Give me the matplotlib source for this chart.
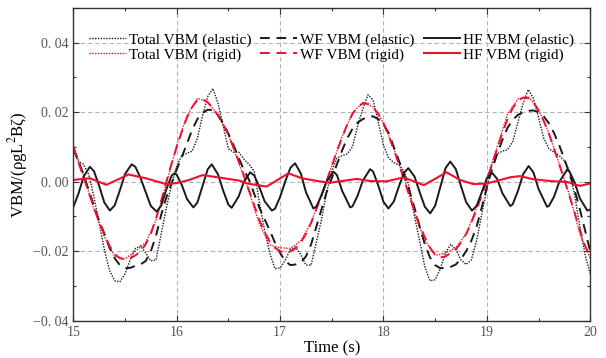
import matplotlib
matplotlib.use("Agg")
import matplotlib.pyplot as plt
from matplotlib.ticker import MultipleLocator

plt.rcParams['font.family'] = ['Liberation Serif', 'DejaVu Serif']
plt.rcParams['mathtext.fontset'] = 'stix'

# ---------------- data ----------------
t_grid = [15.00, 15.05, 15.10, 15.15, 15.20, 15.25, 15.30, 15.35, 15.40, 15.45,
          15.50, 15.55, 15.60, 15.65, 15.70, 15.75, 15.80, 15.85, 15.90, 15.95,
          16.00, 16.05, 16.10, 16.15, 16.20, 16.25, 16.30, 16.35, 16.40, 16.45,
          16.50, 16.55, 16.60, 16.65, 16.70, 16.75, 16.80, 16.85, 16.90, 16.95,
          17.00, 17.05, 17.10, 17.15, 17.20, 17.25, 17.30, 17.35, 17.40, 17.45,
          17.50, 17.55, 17.60, 17.65, 17.70, 17.75, 17.80, 17.85, 17.90, 17.95,
          18.00, 18.05, 18.10, 18.15, 18.20, 18.25, 18.30, 18.35, 18.40, 18.45,
          18.50, 18.55, 18.60, 18.65, 18.70, 18.75, 18.80, 18.85, 18.90, 18.95,
          19.00, 19.05, 19.10, 19.15, 19.20, 19.25, 19.30, 19.35, 19.40, 19.45,
          19.50, 19.55, 19.60, 19.65, 19.70, 19.75, 19.80, 19.85, 19.90, 19.95,
          20.00]

total_elastic = [0.0090, 0.0058, 0.0050, 0.0020, -0.0045, -0.0120, -0.0195, -0.0255, -0.0285, -0.0288,
                 -0.0265, -0.0225, -0.0192, -0.0185, -0.0205, -0.0228, -0.0225, -0.0150, -0.0075, -0.0010,
                 0.0045, 0.0075, 0.0082, 0.0088, 0.0125, 0.0190, 0.0245, 0.0268, 0.0225, 0.0160,
                 0.0095, 0.0085, 0.0085, 0.0065, 0.0050, 0.0030, -0.0060, -0.0140, -0.0205, -0.0250,
                 -0.0248, -0.0225, -0.0195, -0.0188, -0.0210, -0.0240, -0.0240, -0.0175, -0.0110, -0.0030,
                 0.0030, 0.0068, 0.0075, 0.0080, 0.0100, 0.0160, 0.0210, 0.0250, 0.0235, 0.0170,
                 0.0105, 0.0068, 0.0055, 0.0048, 0.0030, -0.0015, -0.0100, -0.0170, -0.0245, -0.0285,
                 -0.0282, -0.0250, -0.0205, -0.0180, -0.0195, -0.0225, -0.0238, -0.0225, -0.0170, -0.0095,
                 -0.0020, 0.0050, 0.0080, 0.0088, 0.0092, 0.0115, 0.0170, 0.0225, 0.0265, 0.0240,
                 0.0185, 0.0125, 0.0095, 0.0085, 0.0075, 0.0060, 0.0030, -0.0040, -0.0130, -0.0210,
                 -0.0265]

wf_elastic = [0.0095, 0.0058, 0.0020, -0.0025, -0.0070, -0.0112, -0.0150, -0.0190, -0.0220, -0.0240,
              -0.0249, -0.0248, -0.0242, -0.0238, -0.0228, -0.0200, -0.0155, -0.0095, -0.0045, -0.0005,
              0.0035, 0.0072, 0.0110, 0.0150, 0.0180, 0.0198, 0.0207, 0.0206, 0.0192, 0.0168,
              0.0138, 0.0105, 0.0068, 0.0035, 0.0005, -0.0035, -0.0075, -0.0108, -0.0140, -0.0175,
              -0.0205, -0.0228, -0.0240, -0.0238, -0.0232, -0.0215, -0.0180, -0.0130, -0.0080, -0.0030,
              0.0010, 0.0050, 0.0090, 0.0125, 0.0152, 0.0170, 0.0180, 0.0187, 0.0188, 0.0180,
              0.0165, 0.0140, 0.0100, 0.0060, 0.0020, -0.0025, -0.0075, -0.0130, -0.0180, -0.0218,
              -0.0240, -0.0249, -0.0248, -0.0245, -0.0238, -0.0222, -0.0200, -0.0170, -0.0130, -0.0075,
              -0.0015, 0.0035, 0.0080, 0.0120, 0.0155, 0.0178, 0.0192, 0.0200, 0.0204, 0.0205,
              0.0200, 0.0188, 0.0168, 0.0140, 0.0105, 0.0065, 0.0022, -0.0025, -0.0080, -0.0140,
              -0.0200]

wf_rigid = [0.0100, 0.0055, 0.0012, -0.0032, -0.0075, -0.0115, -0.0150, -0.0185, -0.0208, -0.0220,
            -0.0224, -0.0220, -0.0212, -0.0200, -0.0180, -0.0150, -0.0105, -0.0055, 0.0000, 0.0052,
            0.0100, 0.0145, 0.0185, 0.0215, 0.0235, 0.0238, 0.0228, 0.0212, 0.0190, 0.0165,
            0.0135, 0.0098, 0.0058, 0.0018, -0.0025, -0.0068, -0.0110, -0.0145, -0.0172, -0.0190,
            -0.0200, -0.0203, -0.0200, -0.0192, -0.0175, -0.0150, -0.0118, -0.0080, -0.0040, 0.0002,
            0.0045, 0.0088, 0.0128, 0.0165, 0.0195, 0.0215, 0.0225, 0.0224, 0.0214, 0.0195,
            0.0168, 0.0132, 0.0092, 0.0050, 0.0005, -0.0040, -0.0085, -0.0125, -0.0160, -0.0190,
            -0.0210, -0.0218, -0.0215, -0.0205, -0.0195, -0.0175, -0.0150, -0.0118, -0.0080, -0.0040,
            0.0005, 0.0050, 0.0095, 0.0140, 0.0180, 0.0212, 0.0232, 0.0242, 0.0240, 0.0228,
            0.0205, 0.0175, 0.0138, 0.0095, 0.0050, 0.0005, -0.0042, -0.0090, -0.0140, -0.0185,
            -0.0215]

t_total_rigid = [15.0, 15.1, 15.2, 15.3, 15.4, 15.5, 15.6, 15.7, 15.8, 15.9,
                 16.0, 16.1, 16.2, 16.3, 16.4, 16.5, 16.6, 16.7, 16.8, 16.9,
                 17.0, 17.1, 17.2, 17.3, 17.4, 17.5, 17.6, 17.7, 17.8, 17.9,
                 18.0, 18.1, 18.2, 18.3, 18.4, 18.5, 18.6, 18.7, 18.8, 18.9,
                 19.0, 19.1, 19.2, 19.3, 19.4, 19.5, 19.6, 19.7, 19.8, 19.9, 20.0]
total_rigid = [0.0105, 0.0018, -0.0080, -0.0158, -0.0215, -0.0222, -0.0200, -0.0175, -0.0110, -0.0005,
               0.0105, 0.0190, 0.0240, 0.0230, 0.0190, 0.0135, 0.0055, -0.0030, -0.0122, -0.0182,
               -0.0190, -0.0192, -0.0170, -0.0118, -0.0035, 0.0045, 0.0130, 0.0198, 0.0228, 0.0215,
               0.0170, 0.0095, 0.0010, -0.0090, -0.0168, -0.0212, -0.0205, -0.0190, -0.0150, -0.0075,
               0.0010, 0.0100, 0.0195, 0.0238, 0.0245, 0.0208, 0.0140, 0.0052, -0.0040, -0.0150, -0.0220]

t_hf_elastic = [15.00, 15.05, 15.10, 15.16, 15.20, 15.25, 15.30, 15.354, 15.40, 15.45,
                15.50, 15.564, 15.60, 15.65, 15.70, 15.75, 15.806, 15.85, 15.90, 15.95,
                15.977, 16.00, 16.05, 16.10, 16.161, 16.20, 16.25, 16.30, 16.339, 16.40,
                16.45, 16.50, 16.532, 16.60, 16.65, 16.71, 16.75, 16.80, 16.85, 16.92,
                16.95, 17.00, 17.05, 17.10, 17.145, 17.20, 17.25, 17.322, 17.35, 17.40,
                17.45, 17.516, 17.55, 17.60, 17.678, 17.70, 17.75, 17.80, 17.871, 17.90,
                17.95, 18.00, 18.048, 18.10, 18.15, 18.20, 18.24, 18.30, 18.35, 18.40,
                18.452, 18.50, 18.55, 18.60, 18.646, 18.70, 18.75, 18.80, 18.856, 18.90,
                18.95, 19.00, 19.049, 19.10, 19.15, 19.226, 19.25, 19.30, 19.35, 19.404,
                19.45, 19.50, 19.582, 19.60, 19.65, 19.70, 19.775, 19.80, 19.85, 19.90,
                19.972, 20.00]
hf_elastic = [-0.0073, -0.0034, 0.0015, 0.0043, 0.0030, -0.0012, -0.0060, -0.0083, -0.0068, -0.0025,
              0.0022, 0.0050, 0.0043, 0.0011, -0.0030, -0.0070, -0.0086, -0.0069, -0.0022, 0.0017,
              0.0024, 0.0020, -0.0010, -0.0050, -0.0074, -0.0060, -0.0012, 0.0036, 0.0050, 0.0021,
              -0.0026, -0.0066, -0.0075, -0.0042, 0.0000, 0.0027, 0.0018, -0.0016, -0.0056, -0.0083,
              -0.0078, -0.0044, 0.0001, 0.0040, 0.0053, 0.0024, -0.0030, -0.0077, -0.0072, -0.0040,
              0.0001, 0.0029, 0.0019, -0.0026, -0.0074, -0.0071, -0.0040, 0.0003, 0.0036, 0.0029,
              -0.0011, -0.0058, -0.0077, -0.0057, -0.0013, 0.0026, 0.0039, 0.0015, -0.0030, -0.0072,
              -0.0091, -0.0069, -0.0015, 0.0039, 0.0058, 0.0036, -0.0013, -0.0059, -0.0083, -0.0070,
              -0.0031, 0.0010, 0.0026, 0.0008, -0.0033, -0.0070, -0.0065, -0.0027, 0.0021, 0.0045,
              0.0027, -0.0021, -0.0072, -0.0070, -0.0043, -0.0001, 0.0034, 0.0029, -0.0003, -0.0048,
              -0.0083, -0.0080]

t_hf_rigid = [15.00, 15.16, 15.32, 15.50, 15.53, 15.70, 15.90, 16.00, 16.12, 16.25,
              16.39, 16.61, 16.68, 16.87, 17.08, 17.21, 17.36, 17.48, 17.60, 17.74,
              17.87, 18.03, 18.19, 18.26, 18.39, 18.48, 18.61, 18.74, 18.87, 19.00,
              19.13, 19.23, 19.32, 19.45, 19.61, 19.78, 19.90, 20.00]
hf_rigid = [0.0005, 0.0010, -0.0009, 0.0016, 0.0021, 0.0010, -0.0007, -0.0004, 0.0005, 0.0019,
            0.0013, 0.0003, -0.0005, -0.0014, 0.0024, 0.0010, 0.0002, -0.0003, 0.0002, 0.0008,
            0.0002, 0.0001, 0.0012, 0.0005, -0.0010, 0.0005, 0.0027, 0.0005, -0.0007, -0.0005,
            0.0005, 0.0013, 0.0016, 0.0007, 0.0002, -0.0001, -0.0012, -0.0005]

x_ticks = [15, 16, 17, 18, 19, 20]
x_ticklabels = ['15', '16', '17', '18', '19', '20']
y_ticks = [-0.04, -0.02, 0.00, 0.02, 0.04]
y_ticklabels = ['\u22120. 04', '\u22120. 02', '0. 00', '0. 02', '0. 04']

labels = ['Total VBM (elastic)', 'Total VBM (rigid)',
          'WF VBM (elastic)', 'WF VBM (rigid)',
          'HF VBM (elastic)', 'HF VBM (rigid)']

# ---------------- figure ----------------
RED = '#f0102e'
fig = plt.figure(figsize=(6.06, 3.58), dpi=100)
ax = fig.add_axes([0.121, 0.104, 0.853, 0.874])

ax.grid(True, which='major', color='#b4b4b4', linestyle=(0, (4, 2.5)), linewidth=0.8)
ax.set_axisbelow(True)

l1, = ax.plot(t_grid, total_elastic, color='#1a1a1a', linestyle=(0, (1, 1)), linewidth=1.0)
l2, = ax.plot(t_total_rigid, total_rigid, color=RED, linestyle=(0, (1, 1)), linewidth=1.0)
l3, = ax.plot(t_grid, wf_elastic, color='#1a1a1a', linestyle=(0, (5, 3.5)), linewidth=1.4)
l4, = ax.plot(t_grid, wf_rigid, color=RED, linestyle=(0, (5, 3.5)), linewidth=1.4)
l5, = ax.plot(t_hf_elastic, hf_elastic, color='#1a1a1a', linestyle='-', linewidth=1.4)
l6, = ax.plot(t_hf_rigid, hf_rigid, color=RED, linestyle='-', linewidth=1.5)

ax.set_xlim(15, 20)
ax.set_ylim(-0.04, 0.05)
ax.set_xticks(x_ticks)
ax.set_xticklabels(x_ticklabels)
ax.set_yticks(y_ticks)
ax.set_yticklabels(y_ticklabels)
ax.xaxis.set_minor_locator(MultipleLocator(0.5))
ax.yaxis.set_minor_locator(MultipleLocator(0.01))
ax.tick_params(which='both', direction='in', top=True, right=True,
               labelsize=10, labelcolor='#555555', color='#333333')
ax.tick_params(which='major', length=4, width=0.8)
ax.tick_params(which='minor', length=2.5, width=0.8)
for s in ax.spines.values():
    s.set_color('#333333')
    s.set_linewidth(1.0)

ax.set_xlabel('Time (s)', fontsize=12, labelpad=1)
ax.set_ylabel('VBM/(\u03c1gL$^2$B\u03b6)', fontsize=12, labelpad=2)

ax.legend([l1, l2, l3, l4, l5, l6], labels, ncol=3, loc='upper center',
          bbox_to_anchor=(0.5, 0.955), frameon=False, fontsize=11,
          handlelength=2.4, handletextpad=0.2, columnspacing=0.6,
          labelspacing=0.1, borderpad=0.2)

fig.savefig('out.png', dpi=100)
